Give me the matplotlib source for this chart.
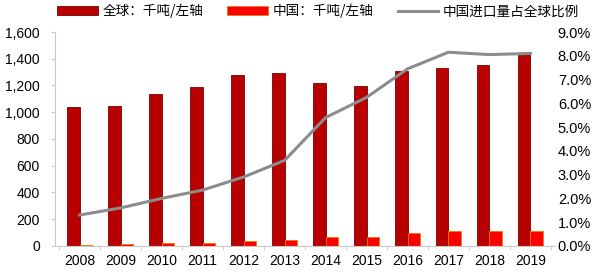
import matplotlib
matplotlib.use("Agg")
import matplotlib.pyplot as plt
import numpy as np
from matplotlib.ticker import FuncFormatter

plt.rcParams["font.family"] = ["Liberation Sans", "Noto Sans CJK SC", "DejaVu Sans"]

years = ["2008", "2009", "2010", "2011", "2012", "2013",
         "2014", "2015", "2016", "2017", "2018", "2019"]
global_kt = [1040, 1045, 1140, 1190, 1280, 1290, 1220, 1195, 1305, 1330, 1350, 1430]
china_kt = [10, 15, 20, 25, 35, 45, 65, 70, 100, 110, 110, 115]
china_share = [1.3, 1.6, 2.0, 2.35, 2.9, 3.6, 5.4, 6.25, 7.45, 8.15, 8.05, 8.1]

fig = plt.figure(figsize=(6.0, 2.76), dpi=100)
ax = fig.add_axes([0.092, 0.109, 0.833, 0.775])
ax2 = ax.twinx()

x = np.arange(len(years))
w = 0.3
b1 = ax.bar(x - w / 2, global_kt, w, color="#B80000", edgecolor="#7A0000", lw=0.6,
            label="全球：千吨/左轴", zorder=2)
b2 = ax.bar(x + w / 2, china_kt, w, color="#FF0000", edgecolor="#E08000", lw=0.6,
            label="中国：千吨/左轴", zorder=2)
ln, = ax2.plot(x, china_share, color="#8C8C8C", lw=2.2, label="中国进口量占全球比例")

ax.set_ylim(0, 1600)
ax.set_yticks(range(0, 1601, 200))
ax.yaxis.set_major_formatter(FuncFormatter(lambda v, p: f"{int(v):,}"))
ax2.set_ylim(0, 9)
ax2.set_yticks(np.arange(0, 9.01, 1))
ax2.yaxis.set_major_formatter(FuncFormatter(lambda v, p: f"{v:.1f}%"))
ax.set_xlim(-0.6, len(years) - 0.4)
ax.set_xticks(x)
ax.set_xticklabels(years)
ax.set_xticks(np.arange(-0.5, len(years), 1), minor=True)

for a in (ax, ax2):
    for s in ("top", "right"):
        a.spines[s].set_visible(False)
ax2.spines["left"].set_visible(False)
ax2.spines["bottom"].set_visible(False)
ax.spines["left"].set_color("#C8C8C8")
ax.spines["bottom"].set_color("#C8C8C8")
ax.tick_params(axis="x", which="major", length=0, labelsize=10, pad=6)
ax.tick_params(axis="x", which="minor", length=3, color="#C8C8C8")
ax.tick_params(axis="y", length=3, color="#C8C8C8", labelsize=10, pad=8)
ax2.tick_params(axis="y", length=0, labelsize=10.5, pad=2)

fig.legend(handles=[b1, b2, ln], loc="upper left", bbox_to_anchor=(0.075, 1.03),
           ncol=3, frameon=False, handlelength=3.0, handleheight=0.6,
           columnspacing=1.8, handletextpad=0.3,
           prop={"family": ["Noto Sans CJK SC", "DejaVu Sans"], "size": 9.8})

fig.savefig("out.png", dpi=100)
